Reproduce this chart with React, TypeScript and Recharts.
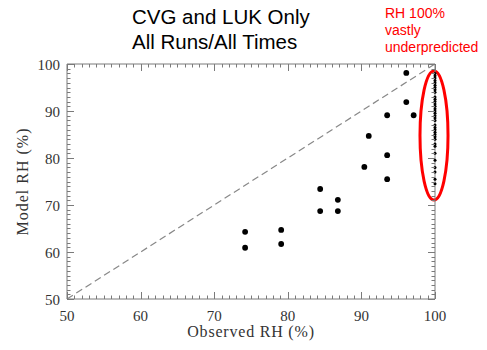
import { ScatterChart, Scatter, XAxis, YAxis, ReferenceLine, ReferenceArea } from 'recharts';

// Observed vs model RH, CVG and LUK stations
const observedRH = [74.2, 74.2, 79.1, 79.1, 84.4, 84.4, 86.8, 86.8, 90.4, 91.0, 93.5, 93.5, 93.5, 96.1, 96.1, 97.1];
const modelRH = [64.3, 60.9, 64.7, 61.7, 73.4, 68.7, 71.1, 68.7, 78.1, 84.7, 89.1, 80.6, 75.5, 98.1, 91.9, 89.1];

// cases where observed RH = 100%
const saturatedObserved = 100;
const saturatedModelRH = [
  98.0, 97.5, 97.0, 96.5, 96.0, 95.5, 95.0, 94.5, 94.0, 93.0, 92.5, 92.0, 91.5, 91.0, 90.5, 90.0,
  89.5, 89.0, 88.5, 88.0, 87.0, 86.5, 86.0, 85.5, 85.0, 84.5, 84.0, 83.0, 82.5, 81.0, 79.5, 78.0,
  77.0, 75.5, 74.5,
];

const minorTicks = Array.from({ length: 51 }, (_, i) => 50 + i);

const W = 487;
const H = 350;
const MARGIN = { top: 64, right: 52, bottom: 11, left: 17 };
const Y_AXIS_W = 50;
const X_AXIS_H = 40;
const PLOT_W = W - MARGIN.left - MARGIN.right - Y_AXIS_W;
const PLOT_H = H - MARGIN.top - MARGIN.bottom - X_AXIS_H;

const FRAME = '#7a7a7a';
const SERIF = '"Liberation Serif", "Times New Roman", serif';
const LABEL = '#333';

const pts = observedRH.map((x, i) => ({ x, y: modelRH[i] }));
const satPts = saturatedModelRH.map(y => ({ x: saturatedObserved, y }));

const isMajor = (v: number) => v % 10 === 0;
const px = (v: number) => Math.round(v) + 0.5;

// bottom axis tick: inward tick at bottom and matching one on the top frame
function BottomTick({ x, y, payload }: any) {
  const len = isMajor(payload.value) ? 7 : 3.5;
  const top = y - PLOT_H;
  return (
    <g>
      <line x1={px(x)} x2={px(x)} y1={y} y2={y - len} stroke={FRAME} />
      <line x1={px(x)} x2={px(x)} y1={top} y2={top + len} stroke={FRAME} />
      {isMajor(payload.value) && (
        <text x={x} y={y + 22} textAnchor="middle" fontFamily={SERIF} fontSize={15} fill={LABEL}>
          {payload.value}
        </text>
      )}
    </g>
  );
}

// left axis tick: inward tick at left and matching one on the right frame
function LeftTick({ x, y, payload }: any) {
  const len = isMajor(payload.value) ? 7 : 3.5;
  const right = x + PLOT_W;
  return (
    <g>
      <line x1={x} x2={x + len} y1={px(y)} y2={px(y)} stroke={FRAME} />
      <line x1={right} x2={right - len} y1={px(y)} y2={px(y)} stroke={FRAME} />
      {isMajor(payload.value) && (
        <text x={x - 7} y={y + 5.5} textAnchor="end" fontFamily={SERIF} fontSize={15} fill={LABEL}>
          {payload.value}
        </text>
      )}
    </g>
  );
}

const Dot = ({ cx, cy }: any) => <circle cx={cx} cy={cy} r={2.9} fill="#000" />;
const SmallDot = ({ cx, cy }: any) => <circle cx={cx} cy={cy} r={1.5} fill="#000" />;

const Ellipse = ({ x, y, width, height }: any) => (
  <ellipse cx={x + width / 2} cy={y + height / 2} rx={width / 2} ry={height / 2} fill="none" stroke="#f00" strokeWidth={3} />
);

function XTitle({ viewBox }: any) {
  return (
    <text x={viewBox.x + viewBox.width / 2} y={viewBox.y + 38} textAnchor="middle"
      fontFamily={SERIF} fontSize={16} letterSpacing={0.8} fill={LABEL}>
      Observed RH (%)
    </text>
  );
}

function YTitle({ viewBox }: any) {
  const cx = viewBox.x + 5;
  const cy = viewBox.y + viewBox.height / 2;
  return (
    <text x={cx} y={cy} transform={`rotate(-90 ${cx} ${cy})`} textAnchor="middle" dominantBaseline="central"
      fontFamily={SERIF} fontSize={16} letterSpacing={1} fill={LABEL}>
      Model RH (%)
    </text>
  );
}

export default function App() {
  return (
    <div style={{ position: 'absolute', left: 0, top: 0, width: W, height: H, background: '#fff' }}>
      <ScatterChart width={W} height={H} margin={MARGIN}>
        <XAxis
          xAxisId="b" type="number" dataKey="x" domain={[50, 100]} ticks={minorTicks} interval={0}
          height={X_AXIS_H} tickSize={0} tickMargin={0} tickLine={false} axisLine={{ stroke: FRAME }}
          tick={<BottomTick />} label={<XTitle />}
        />
        <YAxis
          yAxisId="l" type="number" dataKey="y" domain={[50, 100]} ticks={minorTicks} interval={0}
          width={Y_AXIS_W} tickSize={0} tickMargin={0} tickLine={false} axisLine={{ stroke: FRAME }}
          tick={<LeftTick />} label={<YTitle />}
        />
        {/* top and right frame */}
        <ReferenceLine xAxisId="b" yAxisId="l" segment={[{ x: 50, y: 100 }, { x: 100, y: 100 }]} stroke={FRAME} />
        <ReferenceLine xAxisId="b" yAxisId="l" segment={[{ x: 100, y: 50 }, { x: 100, y: 100 }]} stroke={FRAME} />
        <ReferenceLine
          xAxisId="b" yAxisId="l"
          segment={[{ x: 50, y: 50 }, { x: 100, y: 100 }]}
          stroke="#888" strokeDasharray="7 4" strokeWidth={1.2}
        />
        <Scatter xAxisId="b" yAxisId="l" data={pts} shape={<Dot />} isAnimationActive={false} />
        <Scatter xAxisId="b" yAxisId="l" data={satPts} shape={<SmallDot />} isAnimationActive={false} />
        <ReferenceArea
          xAxisId="b" yAxisId="l" x1={97.96} x2={101.77} y1={71.06} y2={98.5}
          ifOverflow="visible" shape={<Ellipse />}
        />
      </ScatterChart>
      <svg width={W} height={64} style={{ position: 'absolute', left: 0, top: 0, pointerEvents: 'none' }}>
        <g fontFamily='"Liberation Sans", Arial, sans-serif'>
          <text x={132} y={23.5} fontSize={20.5} fill="#000">CVG and LUK Only</text>
          <text x={132} y={49} fontSize={20.5} fill="#000">All Runs/All Times</text>
          <text x={385} y={17.5} fontSize={14} fill="#f00">RH 100%</text>
          <text x={385} y={35} fontSize={14} fill="#f00">vastly</text>
          <text x={385} y={52} fontSize={14} fill="#f00">underpredicted</text>
        </g>
      </svg>
    </div>
  );
}
